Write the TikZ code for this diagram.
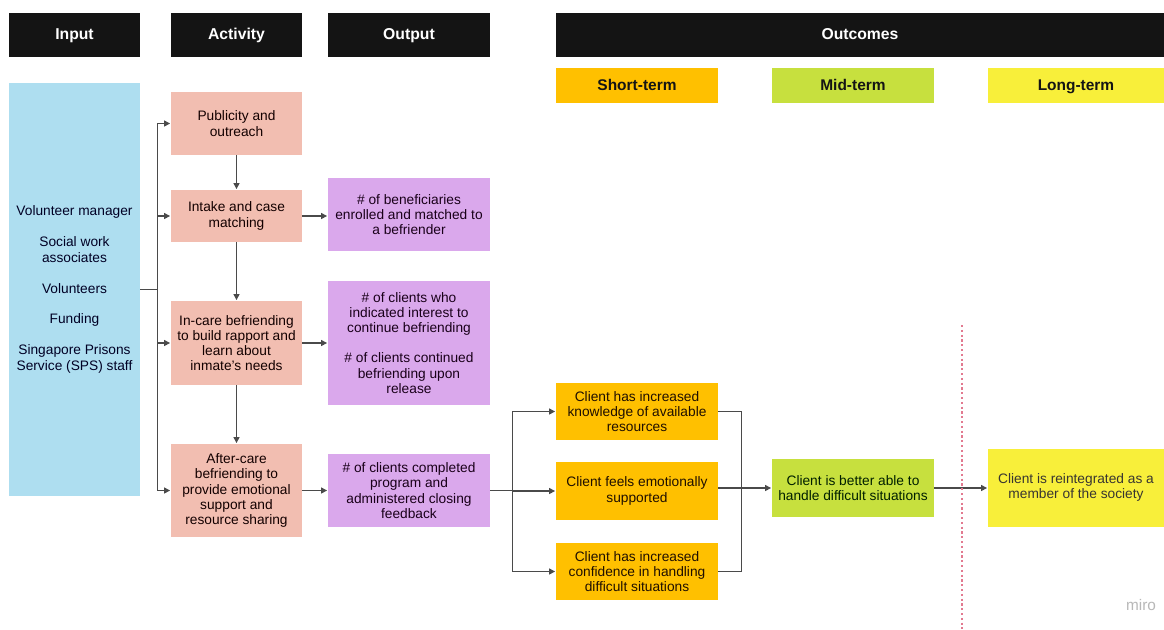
\documentclass[tikz,border=0pt]{standalone}
\usepackage{fontspec}
\setmainfont{Liberation Sans}
\usetikzlibrary{arrows.meta}
\definecolor{headblack}{HTML}{141414}
\definecolor{inblue}{HTML}{AEDEF0}
\definecolor{actpink}{HTML}{F2BEB1}
\definecolor{outpurple}{HTML}{DAA8EC}
\definecolor{shortorange}{HTML}{FFC000}
\definecolor{midgreen}{HTML}{C7E03E}
\definecolor{longyellow}{HTML}{F8EF3A}
\definecolor{linegray}{HTML}{4A4A4A}
\definecolor{dashpink}{HTML}{E27A90}
\tikzset{
  % size of a box, given in pixels of the sketch
  px size/.style 2 args={minimum width=#1*0.75pt, minimum height=#2*0.75pt},
  % common box
  box/.style={rectangle, inner sep=0pt, align=center,
    font=\fontsize{10.3}{11.4}\selectfont},
  % black column headers
  head box/.style={box, fill=headblack, text=white, text height=0.72em, text depth=0.02em,
    font=\fontsize{11.8}{13}\selectfont\bfseries},
  % term labels under the outcomes header
  term box/.style={box, text=black!92, text height=0.72em, text depth=0.02em,
    font=\fontsize{11.6}{13}\selectfont\bfseries},
  input box/.style={box, fill=inblue, text=black!80!blue!70!black},
  activity box/.style={box, fill=actpink, text=black!85!red!50!black},
  output box/.style={box, fill=outpurple, text=black!80!violet},
  short box/.style={box, fill=shortorange, text=black!88!orange},
  mid box/.style={box, fill=midgreen, text=black!88!green},
  long box/.style={box, fill=longyellow, text=black!90!yellow},
  % connectors
  line/.style={draw=linegray, line width=1pt},
  link/.style={line, ->, shorten >=0.5pt}
}

\begin{document}
\begin{tikzpicture}[x=0.75pt, y=-0.75pt, >={Triangle[length=4.5pt,width=4.5pt]}]
  \useasboundingbox[fill=white] (0,0) rectangle (1164,629);

  % headers
  \node[head box, px size={131}{44}] (hInput) at (74.5,35) {Input};
  \node[head box, px size={131}{44}] (hActivity) at (236.5,35) {Activity};
  \node[head box, px size={162}{44}] (hOutput) at (409,35) {Output};
  \node[head box, px size={608}{44}] (hOutcomes) at (860,35) {Outcomes};

  \node[term box, fill=shortorange, px size={162}{35}] (hShort) at (637,85.5) {Short-term};
  \node[term box, fill=midgreen, px size={162}{35}] (hMid) at (853,85.5) {Mid-term};
  \node[term box, fill=longyellow, px size={176}{35}] (hLong) at (1076,85.5) {Long-term};

  % input
  \node[input box, px size={131}{413}] (in) at (74.5,289.5)
    {Volunteer manager\\[11.8pt]Social work\\associates\\[11.8pt]Volunteers\\[11.8pt]Funding\\[11.8pt]Singapore Prisons\\Service (SPS) staff};

  % activities
  \node[activity box, px size={131}{63}] (pub) at (236.5,123.5) {Publicity and\\outreach};
  \node[activity box, px size={131}{52}] (intake) at (236.5,216) {Intake and case\\matching};
  \node[activity box, px size={131}{84}] (incare) at (236.5,343)
    {In-care befriending\\to build rapport and\\learn about\\inmate's needs};
  \node[activity box, px size={131}{93}] (aftercare) at (236.5,490.5)
    {After-care\\befriending to\\provide emotional\\support and\\resource sharing};

  % outputs
  \node[output box, px size={162}{73}] (o1) at (409,214.5)
    {\# of beneficiaries\\enrolled and matched to\\a befriender};
  \node[output box, px size={162}{124}] (o2) at (409,343)
    {\# of clients who\\indicated interest to\\continue befriending\\[11pt]\# of clients continued\\befriending upon\\release};
  \node[output box, px size={162}{73}] (o3) at (409,490.5)
    {\# of clients completed\\program and\\administered closing\\feedback};

  % outcomes
  \node[short box, px size={162}{57}] (s1) at (637,411.5)
    {Client has increased\\knowledge of available\\resources};
  \node[short box, px size={162}{58}] (s2) at (637,491)
    {Client feels emotionally\\supported};
  \node[short box, px size={162}{57}] (s3) at (637,571.5)
    {Client has increased\\confidence in handling\\difficult situations};
  \node[mid box, px size={162}{58}] (mid) at (853,488)
    {Client is better able to\\handle difficult situations};
  \node[long box, px size={176}{78}] (long) at (1076,487.5)
    {Client is reintegrated as a\\member of the society};

  % input to activities
  \path (in.east) ++(17,0) coordinate (bus);
  \draw[line] (in.east) -- (bus);
  \draw[link] (bus) |- (pub.west);
  \draw[link] (bus) |- (intake.west);
  \draw[link] (bus) |- (incare.west);
  \draw[link] (bus) |- (aftercare.west);

  % activity chain
  \draw[link] (pub) -- (intake);
  \draw[link] (intake) -- (incare);
  \draw[link] (incare) -- (aftercare);

  % activities to outputs
  \draw[link] (intake.east) -- (intake.east -| o1.west);
  \draw[link] (incare.east) -- (incare.east -| o2.west);
  \draw[link] (aftercare.east) -- (aftercare.east -| o3.west);

  % output to short-term outcomes
  \path (o3.east) ++(22,0) coordinate (split);
  \draw[line] (o3.east) -- (split);
  \draw[link] (split) |- (s1.west);
  \draw[link] (split) |- (s2.west);
  \draw[link] (split) |- (s3.west);

  % short-term to mid-term
  \path (s1.east) ++(23,0) coordinate (join);
  \draw[line] (s1.east) -- (join) |- (s3.east);
  \draw[link] (s2.east |- mid.west) -- (mid.west);

  % mid-term to long-term
  \draw[link] (mid.east) -- (mid.east -| long.west);
  \draw[dashpink, line width=0.8pt, dash pattern=on 1.6pt off 2pt] (962,325) -- (962,629);

  \node[text=black!28, font=\fontsize{11.5}{11.5}\selectfont] (miro) at (1141,605) {miro};
\end{tikzpicture}
\end{document}
